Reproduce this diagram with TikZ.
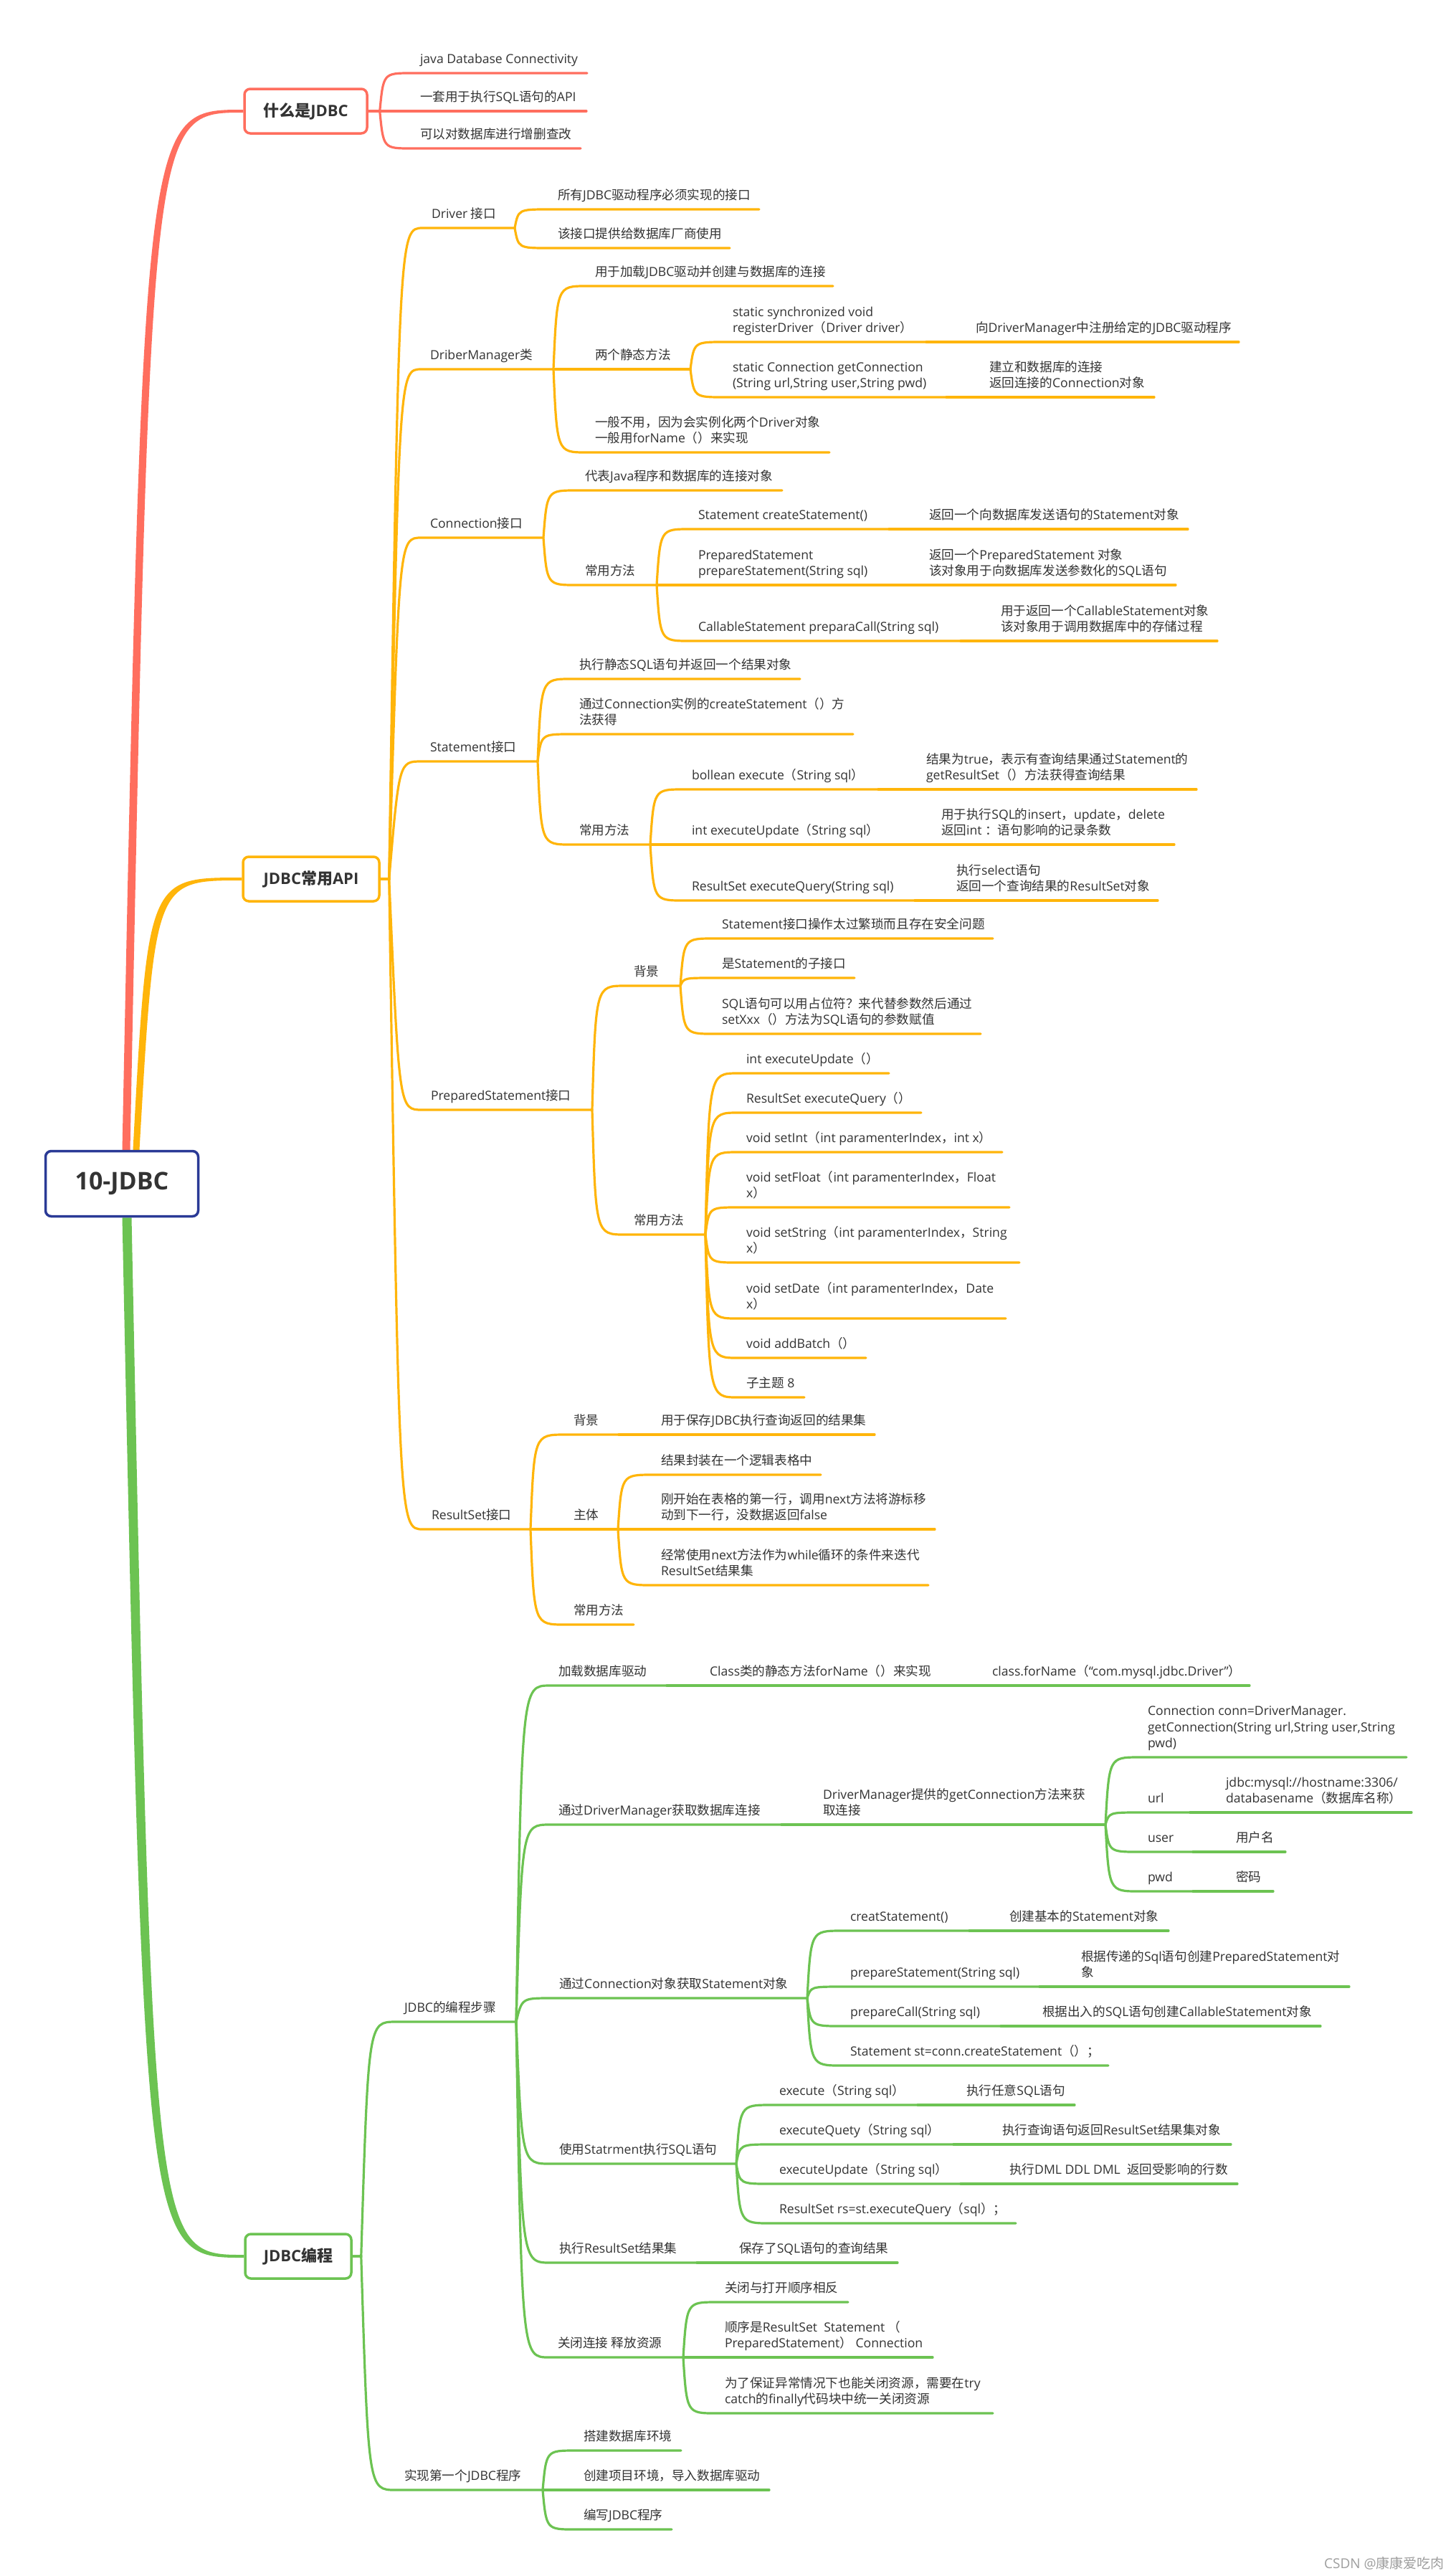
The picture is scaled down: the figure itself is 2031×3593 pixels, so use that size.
\documentclass[tikz,border=0pt]{standalone}
\usepackage{fontspec}
\setmainfont{Open Sans}
\newfontfamily\cjkfont{Noto Sans CJK SC}
\usetikzlibrary{calc,backgrounds}
% switch to the CJK font for Chinese characters
\XeTeXinterchartokenstate=1
\chardef\cjkcls=20
\newcount\cjkpos
\def\cjkrange#1#2{\cjkpos=#1 \loop\XeTeXcharclass\cjkpos=\cjkcls \advance\cjkpos by 1 \ifnum\cjkpos<#2 \repeat}
\cjkrange{"2E80}{"A000}
\cjkrange{"FF00}{"FFF0}
\XeTeXcharclass"201C=0 \XeTeXcharclass"201D=0 \XeTeXcharclass"2018=0 \XeTeXcharclass"2019=0
\cjkpos=0
\loop
  \XeTeXinterchartoks\cjkpos\cjkcls={\begingroup\cjkfont}%
  \XeTeXinterchartoks\cjkcls\cjkpos={\endgroup}%
  \advance\cjkpos by 1
\ifnum\cjkpos<4 \repeat
\XeTeXinterchartoks 4095 \cjkcls={\begingroup\cjkfont}
\XeTeXinterchartoks \cjkcls 4095={\endgroup}
\hyphenpenalty=10000
\definecolor{RedB}{RGB}{255,110,94}
\definecolor{OrgB}{RGB}{255,181,10}
\definecolor{GrnB}{RGB}{108,195,82}
\definecolor{RootB}{RGB}{42,58,150}
\definecolor{TxtC}{RGB}{51,51,51}
\tikzset{
  tp/.style={anchor=south west,inner xsep=12pt,inner ysep=6.5pt,outer sep=0pt,
             align=flush left,text=TxtC,font=\fontsize{17.6}{22.5}\selectfont,
             execute at end node=\strut},
  hub/.style={rounded corners=8pt,line width=3.5pt,fill=white,text=TxtC,
              font=\fontsize{22}{26}\selectfont\bfseries,minimum height=62pt,inner sep=0pt},
  rl/.style={RedB,line width=3.2pt,line cap=round},
  ol/.style={OrgB,line width=3.2pt,line cap=round},
  gl/.style={GrnB,line width=3.2pt,line cap=round},
  br/.style={to path={let \p1=(\tikztostart),\p2=(\tikztotarget) in
             .. controls (\x1+#1,\y2) .. (\tikztotarget)}},
  br/.default=5pt,
}

\begin{document}
\begin{tikzpicture}[x=1pt,y=-1pt]
  \useasboundingbox (0,0) rectangle (2031,3593);
  \node[hub,draw=RootB,minimum width=213pt,minimum height=91pt,
        font=\fontsize{34}{40}\selectfont\bfseries] (root) at (170,1651) {10-JDBC};
  \node[hub,draw=RedB,minimum width=171pt] (what) at (426.5,155) {什么是JDBC};
  \node[hub,draw=OrgB,minimum width=190pt] (api) at (434,1226) {JDBC常用API};
  \node[hub,draw=GrnB,minimum width=148pt] (prog) at (416,3147) {JDBC编程};

  \node[tp,text width=221pt] (w1) at (574,102) {java~Database~Connectivity};
  \node[tp,text width=220pt] (w2) at (574,155) {一套用于执行SQL语句的API};
  \node[tp,text width=212pt] (w3) at (574,207) {可以对数据库进行增删查改};

  \node[tp,text width=104pt] (drv) at (590,318) {Driver~接口};
  \node[tp,text width=269pt] (d1) at (766,292) {所有JDBC驱动程序必须实现的接口};
  \node[tp,text width=228pt] (d2) at (766,346) {该接口提供给数据库厂商使用};
  \node[tp,text width=160pt] (dmg) at (588,515) {DriberManager类};
  \node[tp,text width=320pt] (m1) at (818,399) {用于加载JDBC驱动并创建与数据库的连接};
  \node[tp,text width=121pt] (m2) at (818,515) {两个静态方法};
  \node[tp,text width=258pt] (m2a) at (1010,477) {static~synchronized~void\\registerDriver（Driver~driver）};
  \node[tp,text width=355pt] (m2aa) at (1349,477) {向DriverManager中注册给定的JDBC驱动程序};
  \node[tp,text width=286pt] (m2b) at (1010,554) {static~Connection~getConnection\\(String~url,String~user,String~pwd)};
  \node[tp,text width=218pt] (m2bb) at (1368,554) {建立和数据库的连接\\返回连接的Connection对象};
  \node[tp,text width=315pt] (m3) at (818,631) {一般不用，因为会实例化两个Driver对象\\一般用forName（）来实现};
  \node[tp,text width=146pt] (con) at (588,750) {Connection接口};
  \node[tp,text width=263pt] (c1) at (804,684) {代表Java程序和数据库的连接对象};
  \node[tp,text width=88pt] (c2) at (804,816) {常用方法};
  \node[tp,text width=254pt] (c2a) at (962,738) {Statement~createStatement()};
  \node[tp,text width=349pt] (c2aa) at (1284,738) {返回一个向数据库发送语句的Statement对象};
  \node[tp,text width=254pt] (c2b) at (962,816) {PreparedStatement\\prepareStatement(String~sql)};
  \node[tp,text width=332pt] (c2bb) at (1284,816) {返回一个PreparedStatement~对象\\该对象用于向数据库发送参数化的SQL语句};
  \node[tp,text width=354pt] (c2c) at (962,894) {CallableStatement~preparaCall(String~sql)};
  \node[tp,text width=290pt] (c2cc) at (1384,894) {用于返回一个CallableStatement对象\\该对象用于调用数据库中的存储过程};
  \node[tp,text width=138pt] (stm) at (588,1062) {Statement接口};
  \node[tp,text width=296pt] (s1) at (796,947) {执行静态SQL语句并返回一个结果对象};
  \node[tp,text width=370pt] (s2) at (796,1024) {通过Connection实例的createStatement（）方\\法获得};
  \node[tp,text width=87pt] (s3) at (796,1178) {常用方法};
  \node[tp,text width=248pt] (s3a) at (953,1101) {bollean~execute（String~sql）};
  \node[tp,text width=365pt] (s3aa) at (1280,1101) {结果为true，表示有查询结果通过Statement的\\getResultSet（）方法获得查询结果};
  \node[tp,text width=269pt] (s3b) at (953,1178) {int~executeUpdate（String~sql）};
  \node[tp,text width=313pt] (s3bb) at (1301,1178) {用于执行SQL的insert，update，delete\\返回int~：语句影响的记录条数};
  \node[tp,text width=299pt] (s3c) at (953,1256) {ResultSet~executeQuery(String~sql)};
  \node[tp,text width=269pt] (s3cc) at (1322,1256) {执行select语句\\返回一个查询结果的ResultSet对象};
  \node[tp,text width=213pt] (pst) at (589,1548) {PreparedStatement接口};
  \node[tp,text width=53pt] (p1) at (872,1375) {背景};
  \node[tp,text width=366pt] (p1a) at (995,1309) {Statement接口操作太过繁琐而且存在安全问题};
  \node[tp,text width=173pt] (p1b) at (995,1364) {是Statement的子接口};
  \node[tp,text width=349pt] (p1c) at (995,1442) {SQL语句可以用占位符？来代替参数然后通过\\setXxx（）方法为SQL语句的参数赋值};
  \node[tp,text width=88pt] (p2) at (872,1722) {常用方法};
  \node[tp,text width=187pt] (p2a) at (1029,1497) {int~executeUpdate（）};
  \node[tp,text width=232pt] (p2b) at (1029,1552) {ResultSet~executeQuery（）};
  \node[tp,text width=345pt] (p2c) at (1029,1607) {void~setInt（int~paramenterIndex，int~x）};
  \node[tp,text width=355pt] (p2d) at (1029,1684) {void~setFloat（int~paramenterIndex，Float\\x）};
  \node[tp,text width=369pt] (p2e) at (1029,1761) {void~setString（int~paramenterIndex，String\\x）};
  \node[tp,text width=350pt] (p2f) at (1029,1839) {void~setDate（int~paramenterIndex，Date\\x）};
  \node[tp,text width=155pt] (p2g) at (1029,1894) {void~addBatch（）};
  \node[tp,text width=69pt] (p2h) at (1029,1949) {子主题~8};
  \node[tp,text width=126pt] (rst) at (590,2133) {ResultSet接口};
  \node[tp,text width=51pt] (r1) at (788,2001) {背景};
  \node[tp,text width=286pt] (r1a) at (910,2001) {用于保存JDBC执行查询返回的结果集};
  \node[tp,text width=50pt] (r2) at (788,2133) {主体};
  \node[tp,text width=211pt] (r2a) at (910,2057) {结果封装在一个逻辑表格中};
  \node[tp,text width=370pt] (r2b) at (910,2133) {刚开始在表格的第一行，调用next方法将游标移\\动到下一行，没数据返回false};
  \node[tp,text width=361pt] (r2c) at (910,2211) {经常使用next方法作为while循环的条件来迭代\\ResultSet结果集};
  \node[tp,text width=72pt] (r3) at (788,2266) {常用方法};

  \node[tp,text width=144pt] (stp) at (552,2820) {JDBC的编程步骤};
  \node[tp,text width=139pt] (e1) at (767,2351) {加载数据库驱动};
  \node[tp,text width=324pt] (e1a) at (978,2351) {Class类的静态方法forName（）来实现};
  \node[tp,text width=347pt] (e1b) at (1372,2351) {class.forName（“com.mysql.jdbc.Driver”）};
  \node[tp,text width=299pt] (e2) at (767,2545) {通过DriverManager获取数据库连接};
  \node[tp,text width=382pt] (e2a) at (1136,2545) {DriverManager提供的getConnection方法来获\\取连接};
  \node[tp,text width=349pt] (e2a1) at (1589,2451) {Connection~conn=DriverManager.\\getConnection(String~url,String~user,String\\pwd)};
  \node[tp,text width=47pt] (e2a2) at (1589,2528) {url};
  \node[tp,text width=247pt] (e2a2a) at (1698,2528) {jdbc:mysql://hostname:3306/\\databasename（数据库名称）};
  \node[tp,text width=51pt] (e2a3) at (1589,2583) {user};
  \node[tp,text width=57pt] (e2a3a) at (1712,2583) {用户名};
  \node[tp,text width=51pt] (e2a4) at (1589,2638) {pwd};
  \node[tp,text width=40pt] (e2a4a) at (1712,2638) {密码};
  \node[tp,text width=334pt] (e3) at (768,2787) {通过Connection对象获取Statement对象};
  \node[tp,text width=154pt] (e3a) at (1174,2693) {creatStatement()};
  \node[tp,text width=210pt] (e3a1) at (1396,2693) {创建基本的Statement对象};
  \node[tp,text width=252pt] (e3b) at (1174,2771) {prepareStatement(String~sql)};
  \node[tp,text width=362pt] (e3b1) at (1496,2771) {根据传递的Sql语句创建PreparedStatement对\\象};
  \node[tp,text width=198pt] (e3c) at (1174,2826) {prepareCall(String~sql)};
  \node[tp,text width=376pt] (e3c1) at (1442,2826) {根据出入的SQL语句创建CallableStatement对象};
  \node[tp,text width=348pt] (e3d) at (1174,2881) {Statement~st=conn.createStatement（）；};
  \node[tp,text width=235pt] (e4) at (768,3018) {使用Statrment执行SQL语句};
  \node[tp,text width=181pt] (e4a) at (1075,2936) {execute（String~sql）};
  \node[tp,text width=139pt] (e4a1) at (1336,2936) {执行任意SQL语句};
  \node[tp,text width=231pt] (e4b) at (1075,2991) {executeQuety（String~sql）};
  \node[tp,text width=307pt] (e4b1) at (1386,2991) {执行查询语句返回ResultSet结果集对象};
  \node[tp,text width=241pt] (e4c) at (1075,3046) {executeUpdate（String~sql）};
  \node[tp,text width=306pt] (e4c1) at (1396,3046) {执行DML~DDL~DML~~返回受影响的行数};
  \node[tp,text width=318pt] (e4d) at (1075,3101) {ResultSet~rs=st.executeQuery（sql）；};
  \node[tp,text width=180pt] (e5) at (768,3156) {执行ResultSet结果集};
  \node[tp,text width=209pt] (e5a) at (1019,3156) {保存了SQL语句的查询结果};
  \node[tp,text width=163pt] (e6) at (766,3288) {关闭连接~释放资源};
  \node[tp,text width=160pt] (e6a) at (999,3211) {关闭与打开顺序相反};
  \node[tp,text width=278pt] (e6b) at (999,3288) {顺序是ResultSet~~Statement~（\\PreparedStatement）~Connection};
  \node[tp,text width=362pt] (e6c) at (999,3366) {为了保证异常情况下也能关闭资源，需要在try\\catch的finally代码块中统一关闭资源};
  \node[tp,text width=181pt] (fst) at (552,3473) {实现第一个JDBC程序};
  \node[tp,text width=124pt] (f1) at (802,3418) {搭建数据库环境};
  \node[tp,text width=247pt] (f2) at (802,3473) {创建项目环境，导入数据库驱动};
  \node[tp,text width=111pt] (f3) at (802,3528) {编写JDBC程序};

  \node[anchor=east,inner sep=0pt,text=black!38,font=\fontsize{19}{22}\selectfont] (mark) at (2015,3575) {CSDN @康康爱吃肉};

  \begin{scope}[on background layer]
    \fill[white] (0,0) rectangle (2031,3593);
    \fill[RedB] let \p1=([xshift=6pt]root.north),\p2=(what.west) in
      (\x1-5.5pt,\y1) .. controls (\x1+24pt,\y2+2pt) .. (\x2,\y2+2pt)
      -- (\x2,\y2-2pt) .. controls (\x1+34pt,\y2-2pt) .. (\x1+5.5pt,\y1) -- cycle;
    \fill[OrgB] let \p1=([xshift=20pt]root.north),\p2=(api.west) in
      (\x1-4.5pt,\y1) .. controls (\x1+16pt,\y2+2pt) .. (\x2,\y2+2pt)
      -- (\x2,\y2-2pt) .. controls (\x1+26pt,\y2-2pt) .. (\x1+4.5pt,\y1) -- cycle;
    \fill[GrnB] let \p1=([xshift=7pt]root.south),\p2=(prog.west) in
      (\x1-6.5pt,\y1) .. controls (\x1+24pt,\y2-2pt) .. (\x2,\y2-2pt)
      -- (\x2,\y2+2pt) .. controls (\x1+36pt,\y2+2pt) .. (\x1+6.5pt,\y1) -- cycle;
  \end{scope}

  \foreach \b in {w1,w2,w3}
    \draw[rl] (what.east) -- ++(16,0) to[br] (\b.south west) -- (\b.south east);
  \foreach \b in {drv,dmg,con,stm,pst,rst}
    \draw[ol] (api.east) -- ++(12,0) to[br=14pt] (\b.south west) -- (\b.south east);
  \foreach \a/\b in {drv/d1,drv/d2,dmg/m1,dmg/m2,dmg/m3,m2/m2a,m2/m2b,m2a/m2aa,m2b/m2bb,
      con/c1,con/c2,c2/c2a,c2/c2b,c2/c2c,c2a/c2aa,c2b/c2bb,c2c/c2cc,
      stm/s1,stm/s2,stm/s3,s3/s3a,s3/s3b,s3/s3c,s3a/s3aa,s3b/s3bb,s3c/s3cc,
      pst/p1,pst/p2,p1/p1a,p1/p1b,p1/p1c,p2/p2a,p2/p2b,p2/p2c,p2/p2d,p2/p2e,p2/p2f,p2/p2g,p2/p2h,
      rst/r1,rst/r2,rst/r3,r1/r1a,r2/r2a,r2/r2b,r2/r2c}
    \draw[ol] (\a.south east) to[br] (\b.south west) -- (\b.south east);
  \foreach \b in {stp,fst}
    \draw[gl] (prog.east) -- ++(12,0) to[br=10pt] (\b.south west) -- (\b.south east);
  \foreach \b in {e1,e2,e3,e4,e5,e6}
    \draw[gl] (stp.south east) to[br=8pt] (\b.south west) -- (\b.south east);
  \foreach \a/\b in {e1/e1a,e1a/e1b,e2/e2a,e2a/e2a1,e2a/e2a2,e2a/e2a3,e2a/e2a4,
      e2a2/e2a2a,e2a3/e2a3a,e2a4/e2a4a,e3/e3a,e3/e3b,e3/e3c,e3/e3d,e3a/e3a1,e3b/e3b1,e3c/e3c1,
      e4/e4a,e4/e4b,e4/e4c,e4/e4d,e4a/e4a1,e4b/e4b1,e4c/e4c1,e5/e5a,e6/e6a,e6/e6b,e6/e6c,
      fst/f1,fst/f2,fst/f3}
    \draw[gl] (\a.south east) to[br] (\b.south west) -- (\b.south east);
\end{tikzpicture}
\end{document}
